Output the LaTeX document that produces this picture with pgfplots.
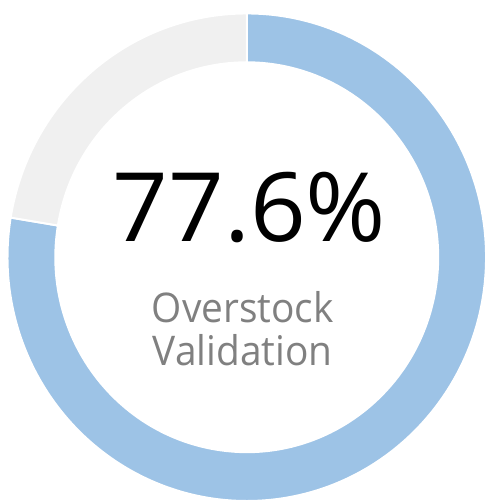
\documentclass[border=0pt]{standalone}
\usepackage{pgfplots}
\pgfplotsset{compat=1.18}
\usepackage{pgfplotstable}
\usetikzlibrary{calc}
\usepackage{fontspec}
\setmainfont{Open Sans}
\definecolor{ringblue}{RGB}{157,195,230}
\definecolor{ringgrey}{RGB}{240,240,240}
\definecolor{labelgrey}{RGB}{128,128,128}
\pgfplotstableread{
label value
Validated 77.6
Remaining 22.4
}\donutdata
\begin{document}
\begin{tikzpicture}
\pgfplotstablegetelem{0}{value}\of\donutdata
\let\valA\pgfplotsretval
\pgfmathsetmacro{\endang}{90-3.6*\valA}
\begin{axis}[scale only axis, width=487pt, height=502pt,
  xmin=0, xmax=487, ymin=0, ymax=502, hide axis, clip=false]
\addplot[draw=none, forget plot] coordinates {(0,0) (487,502)};
\fill[ringblue, draw=white, line width=2pt]
  (axis cs:247.5,244) ++(90:240pt and 244.5pt)
  arc[start angle=90, end angle=\endang, x radius=240pt, y radius=244.5pt]
  -- ($(axis cs:247.5,244)+(\endang:192pt and 195.5pt)$)
  arc[start angle=\endang, end angle=90, x radius=192pt, y radius=195.5pt]
  -- cycle;
\fill[ringgrey, draw=white, line width=2pt]
  (axis cs:247.5,244) ++(\endang:240pt and 244.5pt)
  arc[start angle=\endang, end angle=-270, x radius=240pt, y radius=244.5pt]
  -- ($(axis cs:247.5,244)+(-270:192pt and 195.5pt)$)
  arc[start angle=-270, end angle=\endang, x radius=192pt, y radius=195.5pt]
  -- cycle;
\node[anchor=base, inner sep=0pt, font=\fontsize{96}{96}\selectfont] at (axis cs:250,260) {\scalebox{1.02}[1]{77.6\%}};
\node[anchor=base, inner sep=0pt, text=labelgrey, font=\fontsize{41}{41}\selectfont] at (axis cs:243.5,179) {\scalebox{0.95}[1]{Overstock}};
\node[anchor=base, inner sep=0pt, text=labelgrey, font=\fontsize{41}{41}\selectfont] at (axis cs:243.5,135) {\scalebox{0.95}[1]{Validation}};
\end{axis}
\end{tikzpicture}
\end{document}
